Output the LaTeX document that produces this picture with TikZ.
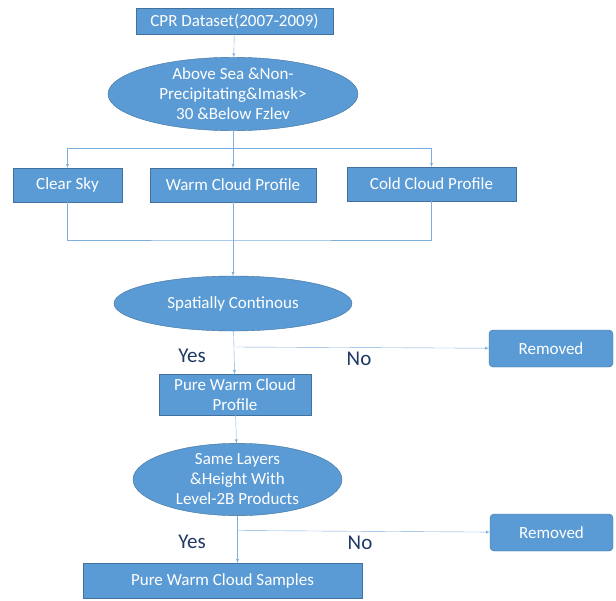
\documentclass[tikz,border=0pt]{standalone}
\usepackage{fontspec}
\setmainfont{Carlito}
\usetikzlibrary{shapes.geometric}
\definecolor{boxblue}{HTML}{5B9BD5}
\definecolor{edgeblue}{HTML}{41719C}
\definecolor{navytext}{HTML}{1F3864}
\begin{document}
\begin{tikzpicture}[x=1pt,y=-1pt]
\tikzset{ >=latex, inner sep=0pt, outer sep=0pt,
  box/.style={rectangle, fill=boxblue, draw=edgeblue, text=white, font=\fontsize{17}{20}\selectfont, align=center},
  rbox/.style={box, rounded corners=4pt},
  oval/.style={ellipse, fill=boxblue, draw=edgeblue, text=white, font=\fontsize{17}{20}\selectfont, align=center},
  link/.style={boxblue!80, thin},
  answer/.style={text=navytext, font=\fontsize{21}{24}\selectfont},
}

\useasboundingbox (0,0) rectangle (616,600);

%\draw [lightgray, dashed](0,0) grid[step=50] (616,600);

\node [box, minimum width=197, minimum height=26] (cpr) at (234.5,21) {CPR Dataset(2007-2009)};
\node [oval, minimum width=250, minimum height=72] (sea) at (233,94) {Above Sea \&Non-\\Precipitating\&Imask>\\30 \&Below Fzlev};

\node [box, minimum width=109, minimum height=34] (clear) at (67.5,185) {Clear Sky};
\node [box, minimum width=166, minimum height=34] (warm) at (233,185) {Warm Cloud Profile};
\node [box, minimum width=169, minimum height=34] (cold) at (431.5,184) {Cold Cloud Profile};

\node [oval, minimum width=238, minimum height=55] (cont) at (233,303.5) {Spatially Continous};
\node [rbox, minimum width=124, minimum height=37] (rm1) at (551,348.5) {Removed};
\node [box, minimum width=152, minimum height=41] (pure) at (235,394.5) {Pure Warm Cloud\\Profile};

\node [oval, minimum width=209, minimum height=65] (layer) at (237.5,479.5) {Same Layers\\\&Height With\\Level-2B Products};
\node [rbox, minimum width=123, minimum height=37] (rm2) at (551.5,532.5) {Removed};
\node [box, minimum width=279, minimum height=35] (samp) at (222.5,580.5) {Pure Warm Cloud Samples};

\coordinate (split) at (233,148);
\coordinate (merge) at (233,240);
\coordinate (fork1) at (235,347);
\coordinate (fork2) at (237,530.5);

\draw [link, ->] (cpr) -- (sea);
\draw [link, ->] (sea) -- (warm);
\draw [link, ->] (split) -| (clear.north);
\draw [link, ->] (split) -| (cold.north);

\draw [link] (clear.south) |- (merge) -| (cold.south);
\draw [link, ->] (warm) -- (cont);

\draw [link, ->] (cont) -- (pure);
\draw [link, ->] (fork1) -- (rm1);
\draw [link, ->] (pure) -- (layer);

\draw [link, ->] (layer) -- (layer.south |- samp.north);
\draw [link, ->] (fork2) -- (rm2);

\node [answer] (yes1) at (192,356) {Yes};
\node [answer] (no1) at (359,359) {No};
\node [answer] (yes2) at (192,542) {Yes};
\node [answer] (no2) at (360,543) {No};

\end{tikzpicture}
\end{document}
